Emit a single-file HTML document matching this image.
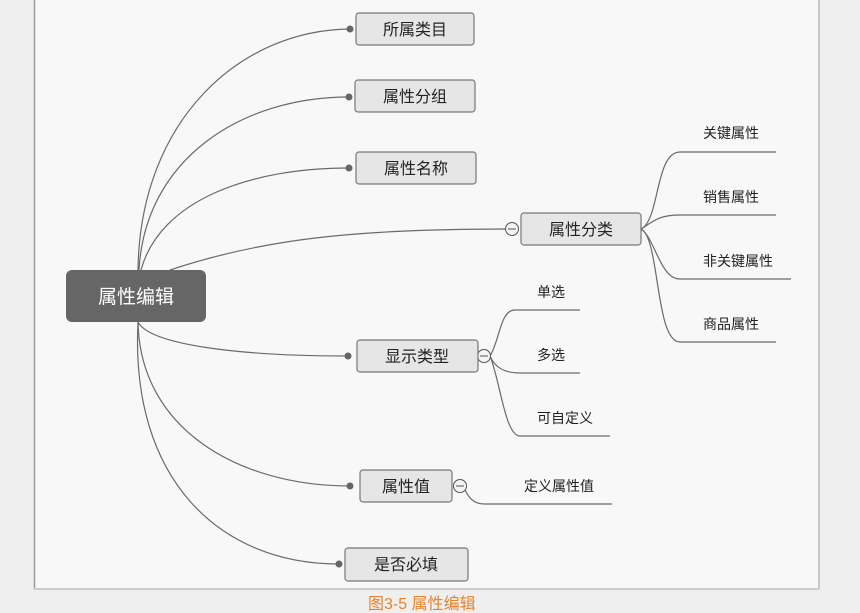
<!DOCTYPE html>
<html><head><meta charset="utf-8"><style>
body{margin:0;width:860px;height:613px;background:#efefef;overflow:hidden;font-family:"Liberation Sans","Noto Sans CJK SC",sans-serif}
</style></head><body>
<svg width="860" height="613" xmlns="http://www.w3.org/2000/svg" style="position:absolute;left:0;top:0">
<rect x="34" y="0" width="785" height="589" fill="#f8f8f8"/>
<line x1="34.5" y1="0" x2="34.5" y2="589" stroke="#999" stroke-width="1.5"/>
<line x1="819" y1="0" x2="819" y2="589" stroke="#bbb" stroke-width="1.5"/>
<line x1="34" y1="589" x2="819" y2="589" stroke="#ccc" stroke-width="2"/>
<g fill="none" stroke="#6a6a6a" stroke-width="1.2">
<path d="M138 270 C140 120 240 30 350 29"/>
<path d="M139 270 C145 160 240 97 349 97"/>
<path d="M141 270 C160 200 250 168 349 168"/>
<path d="M170 270 C260 240 350 229 506 229"/>
<path d="M138 322 C150 345 240 356 348 356"/>
<path d="M138 322 C140 430 240 486 350 486"/>
<path d="M138 322 C130 480 220 564 339 564"/>
<path d="M641 229 C660 220 655 152 680 152 L776 152"/>
<path d="M641 229 C655 220 660 215 680 215 L776 215"/>
<path d="M641 229 C655 238 660 279 680 279 L791 279"/>
<path d="M641 229 C660 238 655 342 680 342 L776 342"/>
<path d="M490 356 C500 340 500 310 515 310 L580 310"/>
<path d="M490 356 C495 368 505 373 520 373 L580 373"/>
<path d="M490 356 C500 380 505 436 520 436 L610 436"/>
<path d="M465 490 C470 500 475 504 485 504 L612 504"/>
</g>
<g fill="#666"><circle cx="350" cy="29" r="3.5"/><circle cx="349" cy="97" r="3.5"/><circle cx="349" cy="168" r="3.5"/><circle cx="348" cy="356" r="3.5"/><circle cx="350" cy="486" r="3.5"/><circle cx="339" cy="564" r="3.5"/></g>
<g fill="#f4f4f4" stroke="#555" stroke-width="1"><circle cx="512" cy="229" r="6.5"/><circle cx="484" cy="356" r="6.5"/><circle cx="460" cy="486" r="6.5"/></g>
<g stroke="#555" stroke-width="1"><line x1="508" y1="229" x2="516" y2="229"/><line x1="480" y1="356" x2="488" y2="356"/><line x1="456" y1="486" x2="464" y2="486"/></g>
<rect x="66" y="270" width="140" height="52" rx="6" fill="#666"/>
<text x="136" y="303" font-size="19" fill="#fff" text-anchor="middle" font-family="Liberation Sans,Noto Sans CJK SC,sans-serif">属性编辑</text>
<g fill="#e6e6e6" stroke="#777" stroke-width="1.2">
<rect x="356" y="13" width="118" height="32" rx="3"/>
<rect x="355" y="80" width="120" height="32" rx="3"/>
<rect x="356" y="152" width="120" height="32" rx="3"/>
<rect x="521" y="213" width="120" height="32" rx="3"/>
<rect x="357" y="340" width="121" height="32" rx="3"/>
<rect x="360" y="470" width="92" height="32" rx="3"/>
<rect x="345" y="548" width="123" height="33" rx="3"/>
</g>
<g font-size="16" fill="#222" text-anchor="middle" font-family="Liberation Sans,Noto Sans CJK SC,sans-serif">
<text x="415" y="35">所属类目</text>
<text x="415" y="102">属性分组</text>
<text x="416" y="174">属性名称</text>
<text x="581" y="235">属性分类</text>
<text x="417" y="362">显示类型</text>
<text x="406" y="492">属性值</text>
<text x="406" y="570">是否必填</text>
</g>
<g font-size="14" fill="#222" font-family="Liberation Sans,Noto Sans CJK SC,sans-serif">
<text x="703" y="138">关键属性</text>
<text x="703" y="202">销售属性</text>
<text x="703" y="266">非关键属性</text>
<text x="703" y="329">商品属性</text>
<text x="537" y="297">单选</text>
<text x="537" y="360">多选</text>
<text x="537" y="423">可自定义</text>
<text x="524" y="491">定义属性值</text>
</g>
<text x="368" y="609" font-size="16" fill="#e8822a" font-family="Liberation Sans,Noto Sans CJK SC,sans-serif">图3-5 属性编辑</text>
</svg>
</body></html>
